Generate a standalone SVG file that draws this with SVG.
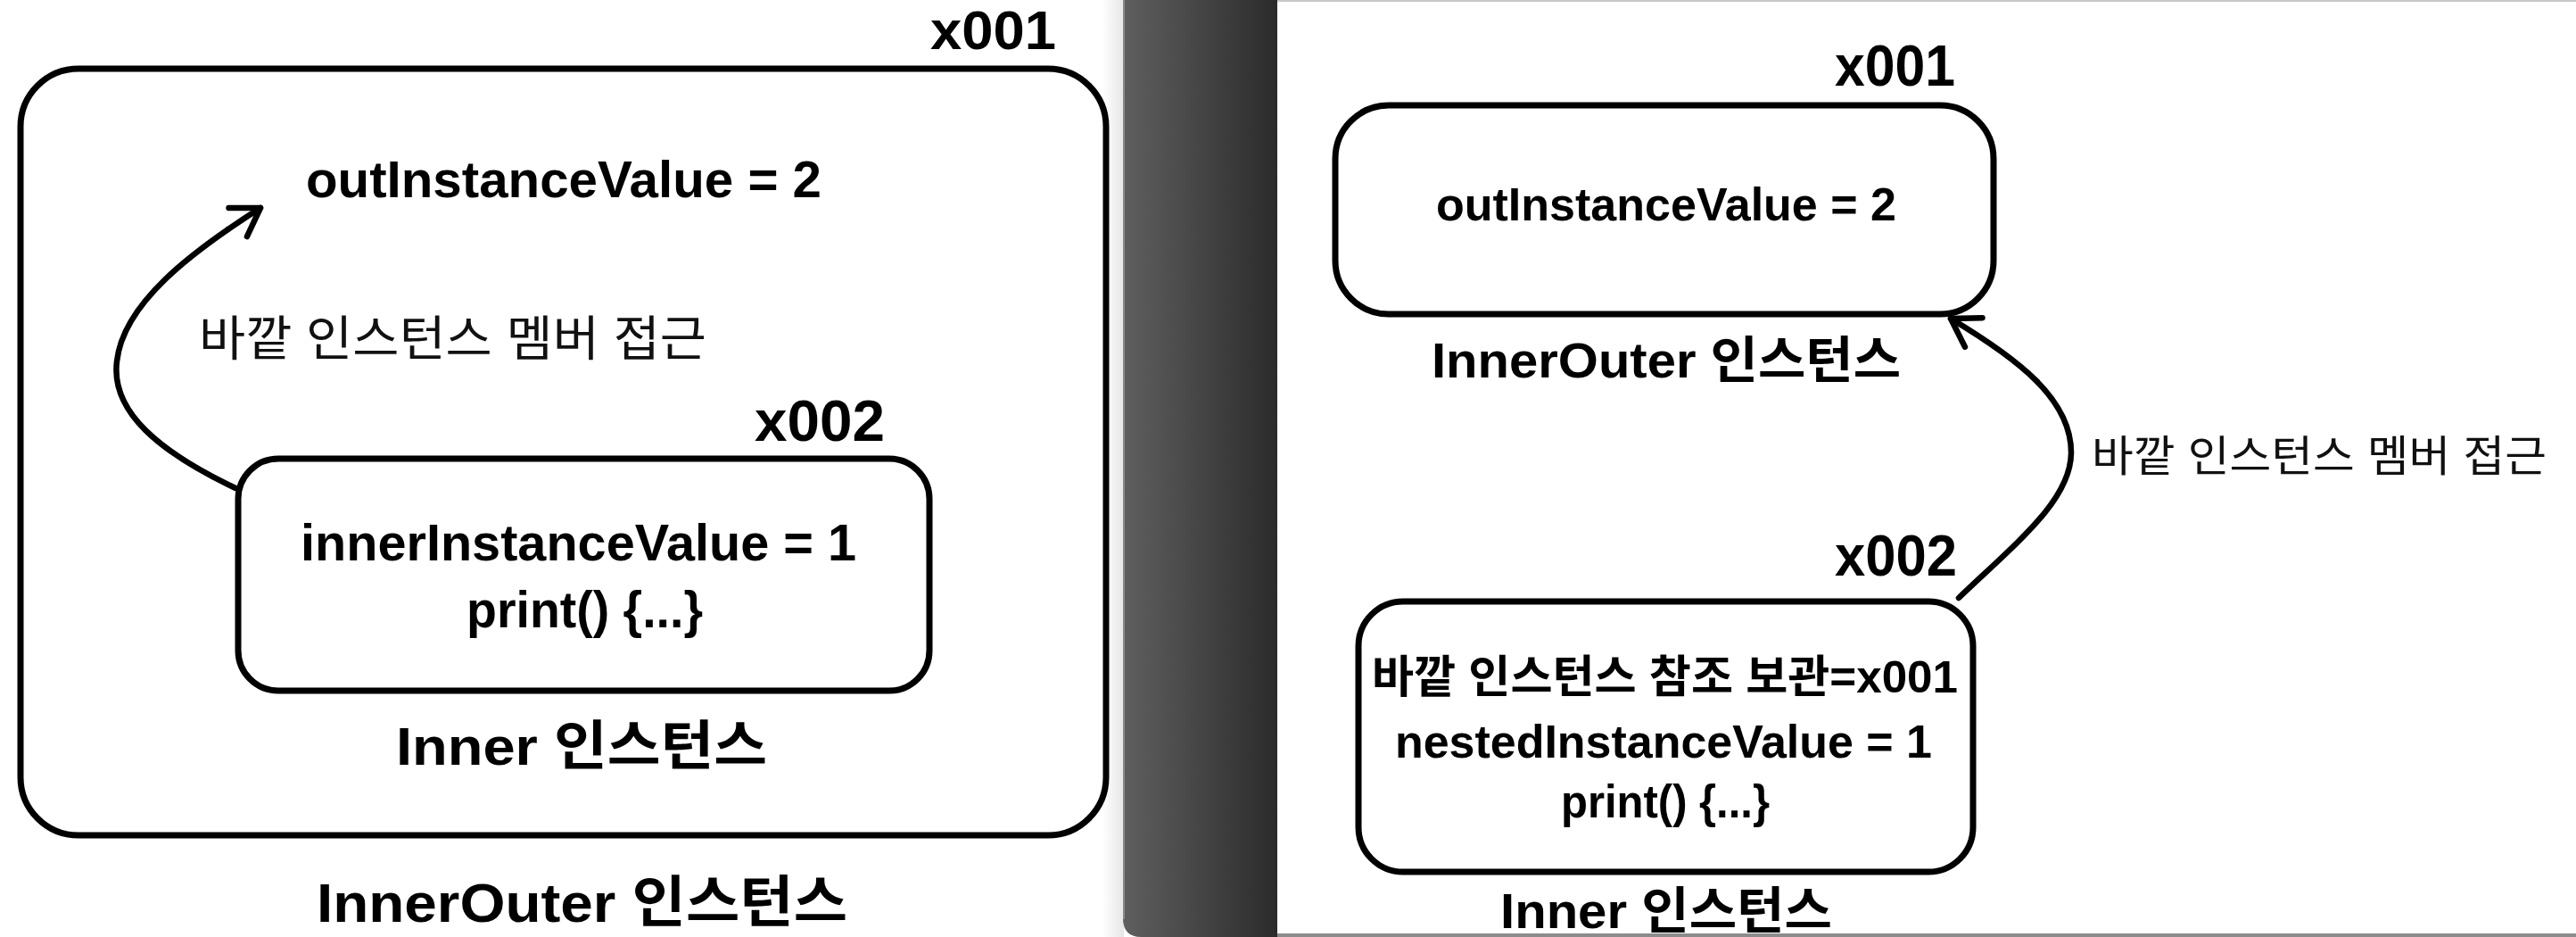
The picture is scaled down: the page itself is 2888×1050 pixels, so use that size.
<svg xmlns="http://www.w3.org/2000/svg" width="2888" height="1050" viewBox="0 0 2888 1050">
  <style>
    .box { fill: #ffffff; stroke: #000000; stroke-width: 7; }
    .conn { fill: none; stroke: #000000; stroke-width: 6.5; stroke-linecap: round; }
    .t { font-family: "Liberation Sans", "Noto Sans CJK KR", sans-serif; fill: #000000; font-weight: bold; }
    .lbl { font-family: "Liberation Sans", "Noto Sans CJK KR", sans-serif; fill: #111111; font-weight: normal; }
  </style>
  <defs>
    <linearGradient id="band" x1="0" y1="0" x2="1" y2="0">
      <stop offset="0" stop-color="#5f5f5f"/>
      <stop offset="1" stop-color="#2b2b2b"/>
    </linearGradient>
    <linearGradient id="shade" x1="0" y1="0" x2="1" y2="0">
      <stop offset="0" stop-color="#ffffff"/>
      <stop offset="1" stop-color="#e6e6e6"/>
    </linearGradient>
    <marker id="arrow" markerUnits="userSpaceOnUse" viewBox="-40 -30 50 60" markerWidth="50" markerHeight="60" refX="0" refY="0" orient="auto">
      <path d="M -30 -19 L 0 0 L -30 19" fill="none" stroke="#000000" stroke-width="6.5" stroke-linecap="round" stroke-linejoin="round"/>
    </marker>
  </defs>

  <!-- background / screenshot frame -->
  <g id="background">
    <rect x="0" y="0" width="2888" height="1050" fill="#ffffff"/>
    <rect x="1236" y="0" width="24" height="1050" fill="url(#shade)"/>
    <path d="M 1259 0 L 1432 0 L 1432 1050 L 1280 1050 Q 1259 1050 1259 1029 Z" fill="url(#band)"/>
    <rect x="1259" y="0" width="2" height="1030" fill="#8a8a8a"/>
    <rect x="1432" y="0" width="1456" height="2" fill="#c8c8c8"/>
    <rect x="1432" y="1046" width="1456" height="4" fill="#8c8c8c"/>
  </g>

  <!-- LEFT PANEL -->
  <g id="left-outer">
    <text class="t" x="1043" y="55" font-size="62" textLength="141" lengthAdjust="spacingAndGlyphs">x001</text>
    <rect class="box" x="23" y="77" width="1217" height="859" rx="65"/>
    <text class="t" x="343" y="221" font-size="58" textLength="578" lengthAdjust="spacingAndGlyphs">outInstanceValue = 2</text>
    <text class="t" x="355" y="1033" font-size="62" textLength="595" lengthAdjust="spacingAndGlyphs">InnerOuter 인스턴스</text>
  </g>

  <g id="left-inner">
    <text class="t" x="846" y="494" font-size="64" textLength="146" lengthAdjust="spacingAndGlyphs">x002</text>
    <rect class="box" x="267" y="514" width="775" height="260" rx="45"/>
    <text class="t" x="337" y="628" font-size="58" textLength="623" lengthAdjust="spacingAndGlyphs">innerInstanceValue = 1</text>
    <text class="t" x="523" y="703" font-size="58" textLength="265" lengthAdjust="spacingAndGlyphs">print() {...}</text>
    <text class="t" x="444" y="857" font-size="60" textLength="416" lengthAdjust="spacingAndGlyphs">Inner 인스턴스</text>
  </g>

  <!-- RIGHT PANEL -->
  <g id="right-outer">
    <text class="t" x="2057" y="96" font-size="64" textLength="135" lengthAdjust="spacingAndGlyphs">x001</text>
    <rect class="box" x="1497" y="118" width="738" height="234" rx="60"/>
    <text class="t" x="1610" y="247" font-size="52" textLength="516" lengthAdjust="spacingAndGlyphs">outInstanceValue = 2</text>
    <text class="t" x="1605" y="423" font-size="56" textLength="526" lengthAdjust="spacingAndGlyphs">InnerOuter 인스턴스</text>
  </g>

  <g id="right-inner">
    <text class="t" x="2057" y="645" font-size="64" textLength="137" lengthAdjust="spacingAndGlyphs">x002</text>
    <rect class="box" x="1523" y="674" width="689" height="303" rx="50"/>
    <text class="t" x="1538" y="776" font-size="50" textLength="657" lengthAdjust="spacingAndGlyphs">바깥 인스턴스 참조 보관=x001</text>
    <text class="t" x="1564" y="849" font-size="52" textLength="602" lengthAdjust="spacingAndGlyphs">nestedInstanceValue = 1</text>
    <text class="t" x="1750" y="916" font-size="52" textLength="234" lengthAdjust="spacingAndGlyphs">print() {...}</text>
    <text class="t" x="1682" y="1040" font-size="56" textLength="372" lengthAdjust="spacingAndGlyphs">Inner 인스턴스</text>
  </g>

  <!-- CONNECTORS -->
  <g id="connectors">
    <path class="conn" d="M 264 547 C 180 507 124 462 131 405 C 138 340 215 282 292 233" marker-end="url(#arrow)"/>
    <text class="lbl" x="223" y="399" font-size="54" textLength="569" lengthAdjust="spacingAndGlyphs">바깥 인스턴스 멤버 접근</text>

    <path class="conn" d="M 2196 670 C 2262 607 2322 560 2322 507 C 2322 447 2262 402 2187 357" marker-end="url(#arrow)"/>
    <text class="lbl" x="2345" y="528" font-size="48" textLength="510" lengthAdjust="spacingAndGlyphs">바깥 인스턴스 멤버 접근</text>
  </g>
</svg>
